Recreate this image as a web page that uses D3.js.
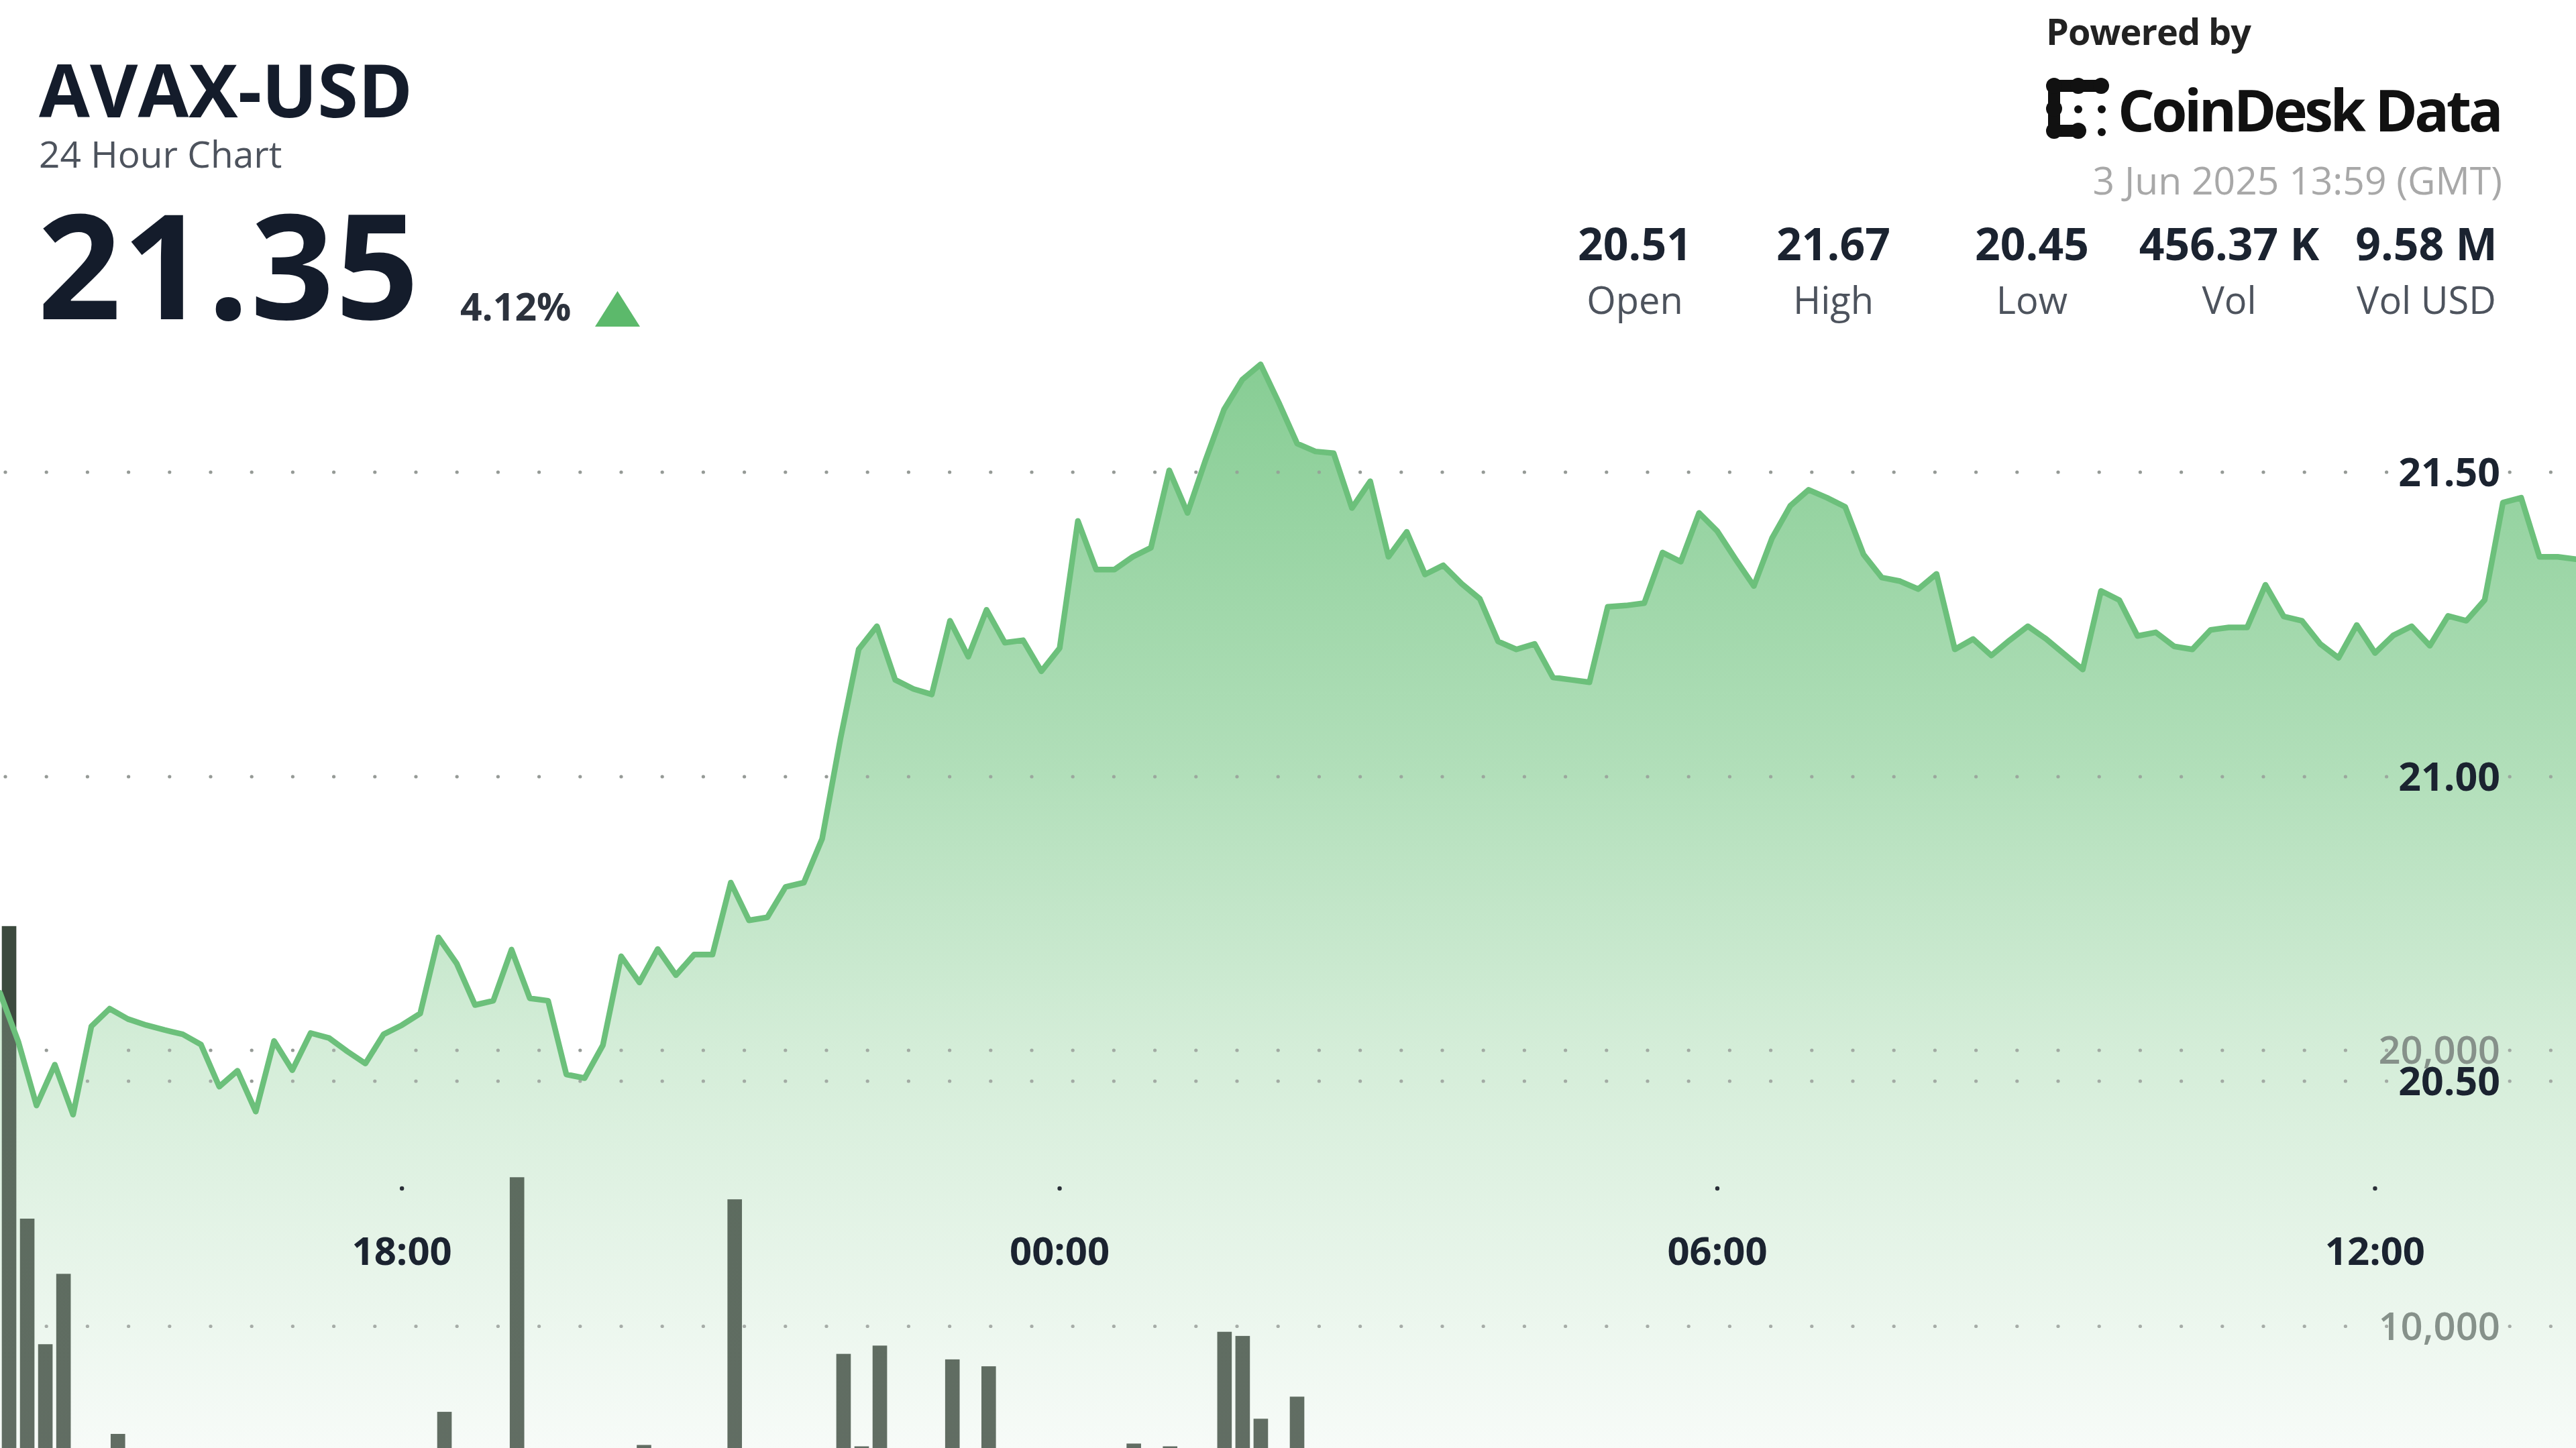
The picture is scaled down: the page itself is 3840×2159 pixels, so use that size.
<!DOCTYPE html>
<html>
<head>
<meta charset="utf-8">
<script src="https://cdn.jsdelivr.net/npm/d3@7"></script>
<style>
  html, body { margin: 0; padding: 0; background: #ffffff; }
  svg { display: block; }
  text { font-family: "Open Sans", "Noto Sans", sans-serif; }
</style>
</head>
<body>
<svg id="chart" width="3840" height="2159"></svg>
<script>
// ---------------- DATA ----------------
const symbol = "AVAX-USD";
const subtitle = "24 Hour Chart";
const lastPrice = "21.35";
const changePct = "4.12%";
const timestampText = "3 Jun 2025 13:59 (GMT)";
const statValues = ["20.51", "21.67", "20.45", "456.37 K", "9.58 M"];
const statLabels = ["Open", "High", "Low", "Vol", "Vol USD"];

// 10-minute points, 2 Jun 2025 14:20 UTC -> 3 Jun 2025 13:50 UTC
const startTimeUTC = Date.UTC(2025, 5, 2, 14, 20);
const stepMinutes = 10;

const prices = [
  20.645, 20.565, 20.460, 20.527, 20.445, 20.590, 20.619, 20.602, 20.592, 20.584,
  20.577, 20.560, 20.491, 20.517, 20.450, 20.566, 20.518, 20.579, 20.571, 20.549,
  20.529, 20.577, 20.592, 20.611, 20.736, 20.693, 20.625, 20.632, 20.716, 20.636,
  20.632, 20.511, 20.505, 20.559, 20.705, 20.662, 20.717, 20.674, 20.708, 20.708,
  20.826, 20.764, 20.769, 20.819, 20.826, 20.898, 21.062, 21.209, 21.247, 21.159,
  21.144, 21.135, 21.256, 21.197, 21.274, 21.220, 21.224, 21.173, 21.211, 21.420,
  21.340, 21.340, 21.361, 21.376, 21.503, 21.433, 21.521, 21.603, 21.652, 21.677,
  21.614, 21.547, 21.534, 21.531, 21.441, 21.485, 21.361, 21.402, 21.332, 21.347,
  21.317, 21.292, 21.222, 21.209, 21.218, 21.163, 21.159, 21.155, 21.279, 21.281,
  21.285, 21.368, 21.353, 21.433, 21.403, 21.357, 21.313, 21.392, 21.445, 21.471,
  21.458, 21.443, 21.365, 21.327, 21.321, 21.308, 21.333, 21.209, 21.226, 21.199,
  21.224, 21.247, 21.226, 21.201, 21.176, 21.305, 21.290, 21.231, 21.237, 21.214,
  21.209, 21.241, 21.245, 21.245, 21.315, 21.263, 21.256, 21.218, 21.195, 21.249,
  21.203, 21.232, 21.247, 21.215, 21.264, 21.256, 21.290, 21.450, 21.458, 21.361,
  21.361, 21.357
];

const volumes = [
  24500, 13900, 9350, 11900, 3200, 2400, 6100, 2100, 1800, 1500,
  2600, 3100, 2800, 1900, 2200, 3400, 1700, 2000, 1600, 2300,
  1900, 2500, 2700, 3300, 6900, 3600, 2900, 2200, 15400, 3800,
  2600, 3900, 4200, 3100, 4500, 5700, 3300, 2800, 3500, 4100,
  14600, 4300, 3700, 3900, 4600, 4800, 9000, 5650, 9300, 4400,
  3600, 4100, 8800, 4700, 8550, 3900, 3200, 3500, 2900, 4800,
  3400, 3000, 5750, 4200, 5650, 3800, 4400, 9800, 9650, 6650,
  4900, 7450, 3900, 3100, 3600, 2700, 3300, 2500, 2100, 1900,
  2400, 2200, 2800, 1800, 1600, 2300, 1700, 1500, 2600, 1900,
  1400, 2300, 1800, 2500, 2000, 1700, 1900, 2200, 2600, 2100,
  1800, 1500, 2400, 1900, 1600, 1400, 1700, 2800, 1800, 1500,
  1300, 1600, 1400, 1700, 1900, 2300, 1600, 1500, 1300, 1400,
  1500, 1200, 1300, 1100, 1800, 1400, 1200, 1500, 1600, 1400,
  1700, 1300, 1500, 1200, 1600, 1400, 1900, 3800, 2600, 2200,
  1700, 1500
];

const priceTicks = [20.5, 21.0, 21.5];
const volumeTicks = [10000, 20000];
const timeTickLabels = ["18:00", "00:00", "06:00", "12:00"];
const timeTicks = [
  Date.UTC(2025, 5, 2, 18, 0), Date.UTC(2025, 5, 3, 0, 0),
  Date.UTC(2025, 5, 3, 6, 0), Date.UTC(2025, 5, 3, 12, 0)
];

// ---------------- LAYOUT ----------------
const W = 3840, H = 2159;
const svg = d3.select("#chart");
svg.append("rect").attr("width", W).attr("height", H).attr("fill", "#ffffff");

const times = prices.map((_, i) => new Date(startTimeUTC + i * stepMinutes * 60000));
const series = prices.map((p, i) => ({ t: times[i], p, v: volumes[i], i }));

const x = d3.scaleUtc().domain(d3.extent(times)).range([0, W]);
const y = d3.scaleLinear().domain([20.5, 21.5]).range([1612, 704]);
const yVol = d3.scaleLinear().domain([0, 20000]).range([2389, 1566]);
const xBand = d3.scaleBand().domain(d3.range(prices.length)).range([0, W])
  .paddingInner(0.2).paddingOuter(0.1);

// gradient for area
const defs = svg.append("defs");
const grad = defs.append("linearGradient").attr("id", "areaGrad")
  .attr("gradientUnits", "userSpaceOnUse")
  .attr("x1", 0).attr("x2", 0).attr("y1", y(d3.max(prices))).attr("y2", H);
[[0, "#87cd94"], [0.38, "#b2dfba"], [0.63, "#d4edd8"], [1, "#f7fbf8"]].forEach(([o, c]) =>
  grad.append("stop").attr("offset", o).attr("stop-color", c));

const area = d3.area().x(d => x(d.t)).y0(H).y1(d => y(d.p)).curve(d3.curveLinear);
const line = d3.line().x(d => x(d.t)).y(d => y(d.p)).curve(d3.curveLinear);

// base area
svg.append("path").datum(series).attr("d", area).attr("fill", "url(#areaGrad)");

// dotted grid lines
const dotXs = d3.range(8, W, 61.2).filter(v => v < 3590 || v > 3725);
function dottedLine(yy) {
  svg.append("g").selectAll("circle").data(dotXs).join("circle")
    .attr("cx", d => d).attr("cy", yy).attr("r", 2.6).attr("fill", "#959a96");
}
priceTicks.forEach(t => dottedLine(y(t)));
volumeTicks.forEach(t => dottedLine(yVol(t)));

// volume bars
svg.append("g").selectAll("rect").data(series).join("rect")
  .attr("x", d => xBand(d.i))
  .attr("width", xBand.bandwidth())
  .attr("y", d => yVol(d.v))
  .attr("height", d => Math.max(0, yVol(0) - yVol(d.v)))
  .attr("fill", "#3c4a3e");

// translucent area overlay above bars
svg.append("path").datum(series).attr("d", area).attr("fill", "url(#areaGrad)").attr("opacity", 0.2);

// price line
svg.append("path").datum(series).attr("d", line)
  .attr("fill", "none").attr("stroke", "#6cc07b").attr("stroke-width", 8.5)
  .attr("stroke-linejoin", "round").attr("stroke-linecap", "round");

// y labels (price)
svg.append("g").selectAll("text").data(priceTicks).join("text")
  .attr("x", 3727).attr("y", d => y(d)).attr("dy", "0.35em")
  .attr("text-anchor", "end").attr("font-size", 59).attr("font-weight", 700)
  .attr("fill", "#1b2330").text(d => d3.format(".2f")(d));

// volume labels
svg.append("g").selectAll("text").data(volumeTicks).join("text")
  .attr("x", 3727).attr("y", d => yVol(d)).attr("dy", "0.35em")
  .attr("text-anchor", "end").attr("font-size", 58).attr("font-weight", 600)
  .attr("fill", "#86918a").text(d => d3.format(",")(d));

// x axis ticks
const xg = svg.append("g");
xg.selectAll("circle").data(timeTicks).join("circle")
  .attr("cx", d => x(new Date(d))).attr("cy", 1772).attr("r", 3.2).attr("fill", "#2a2f38");
xg.selectAll("text").data(timeTicks).join("text")
  .attr("x", d => x(new Date(d))).attr("y", 1866).attr("dy", "0.35em")
  .attr("text-anchor", "middle").attr("font-size", 58).attr("font-weight", 700)
  .attr("fill", "#1b2330").text((d, i) => timeTickLabels[i]);

// ---------------- HEADER ----------------
svg.append("text").attr("x", 58).attr("y", 175).attr("font-size", 110).attr("font-weight", 700)
  .attr("fill", "#141c2b").text(symbol);
svg.append("text").attr("x", 58).attr("y", 250).attr("font-size", 55).attr("font-weight", 400)
  .attr("fill", "#4d535d").text(subtitle);
svg.append("text").attr("x", 56).attr("y", 476).attr("font-size", 218).attr("font-weight", 700)
  .attr("fill", "#141c2b").attr("letter-spacing", 2).text(lastPrice);
svg.append("text").attr("x", 686).attr("y", 478).attr("font-size", 57).attr("font-weight", 700)
  .attr("fill", "#2c323d").text(changePct);
svg.append("path").attr("d", "M887,487 L954,487 L920.5,434 Z").attr("fill", "#5cb96b");

// Powered by + logo
svg.append("text").attr("x", 3050).attr("y", 67).attr("font-size", 54).attr("font-weight", 700)
  .attr("letter-spacing", -1).attr("fill", "#222222").text("Powered by");
const logo = svg.append("g");
logo.append("path").attr("d", "M3098,128 L3062,128 L3062,195 L3098,195 M3062,128 L3132,128")
  .attr("fill", "none").attr("stroke", "#111").attr("stroke-width", 18).attr("stroke-linecap", "round")
  .attr("stroke-linejoin", "round");
[[3062,128,12],[3098,128,12],[3132,128,12],[3062,162,12],[3062,195,12],[3098,195,12]].forEach(([cx,cy,r]) =>
  logo.append("circle").attr("cx", cx).attr("cy", cy).attr("r", r).attr("fill", "#111"));
[[3098,163],[3133,163],[3133,197]].forEach(([cx,cy]) =>
  logo.append("circle").attr("cx", cx).attr("cy", cy).attr("r", 6).attr("fill", "#111"));
svg.append("text").attr("x", 3157).attr("y", 196).attr("font-family", "Inter, 'Open Sans', sans-serif")
  .attr("font-size", 86).attr("font-weight", 700).attr("letter-spacing", -4.5)
  .attr("fill", "#111111").text("CoinDesk Data");

svg.append("text").attr("x", 3730).attr("y", 290).attr("text-anchor", "end")
  .attr("font-size", 57).attr("font-weight", 400).attr("fill", "#a8a8a8").text(timestampText);

const statX = [2437, 2733, 3029, 3323, 3617];
svg.append("g").selectAll("text").data(statValues).join("text")
  .attr("x", (d, i) => statX[i]).attr("y", 388).attr("text-anchor", "middle")
  .attr("font-size", 66).attr("font-weight", 700).attr("fill", "#1b2330").text(d => d);
svg.append("g").selectAll("text").data(statLabels).join("text")
  .attr("x", (d, i) => statX[i]).attr("y", 468).attr("text-anchor", "middle")
  .attr("font-size", 56).attr("font-weight", 400).attr("fill", "#4d535d").text(d => d);
</script>
</body>
</html>
